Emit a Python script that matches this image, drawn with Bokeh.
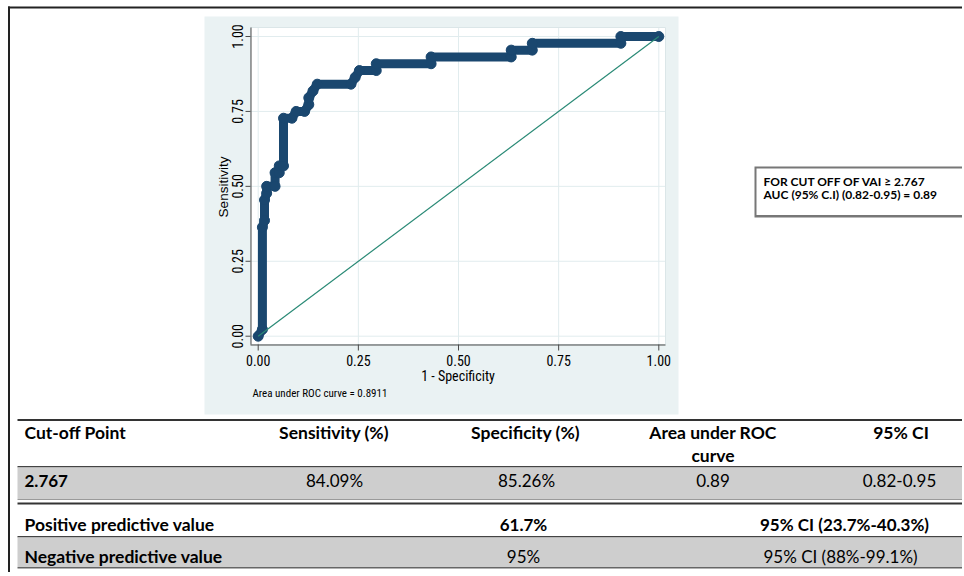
import math
from bokeh.plotting import figure
from bokeh.models import Range1d
from bokeh.core.properties import value
from bokeh.embed import file_html
from bokeh.resources import INLINE

# ---------------- data ----------------
fpr = [0.000, 0.0105, 0.0105, 0.0158, 0.0158, 0.0211, 0.0211, 0.0421, 0.0421, 0.0526,
       0.0526, 0.0632, 0.0632, 0.0842, 0.0947, 0.1158, 0.1263, 0.1263, 0.1368, 0.1474,
       0.2316, 0.2421, 0.2526, 0.2947, 0.2947, 0.4316, 0.4316, 0.6316, 0.6316, 0.6842,
       0.6842, 0.9053, 0.9053, 1.000]
tpr = [0.000, 0.0227, 0.3636, 0.3864, 0.4545, 0.4773, 0.5000, 0.5000, 0.5455, 0.5455,
       0.5682, 0.5682, 0.7273, 0.7273, 0.7500, 0.7500, 0.7727, 0.7955, 0.8182, 0.8409,
       0.8409, 0.8636, 0.8864, 0.8864, 0.9091, 0.9091, 0.9318, 0.9318, 0.9545, 0.9545,
       0.9773, 0.9773, 1.000, 1.000]
ref_x = [0.0, 1.0]
ref_y = [0.0, 1.0]
tick_vals = [0.0, 0.25, 0.5, 0.75, 1.0]
tick_labels = ["0.00", "0.25", "0.50", "0.75", "1.00"]
x_title = "1 - Specificity"
y_title = "Sensitivity"
auc_note = "Area under ROC curve = 0.8911"
box_lines = ["FOR CUT OFF OF VAI \u2265 2.767", "AUC (95% C.I) (0.82-0.95) = 0.89"]
header = ["Cut-off Point", "Sensitivity (%)", "Specificity (%)", "Area under ROC", "95% CI"]
header_2 = ["", "", "", "curve", ""]
row_cut = ["2.767", "84.09%", "85.26%", "0.89", "0.82-0.95"]
ppv_row = ["Positive predictive value", "61.7%", "95% CI (23.7%-40.3%)"]
npv_row = ["Negative predictive value", "95%", "95% CI (88%-99.1%)"]

# ---------------- layout (page pixels) ----------------
PW, PH = 962, 572
GX0, GX1, GY0, GY1 = 204, 678, 16, 414     # Stata graph region
FL, FR, FT, FB = 250, 665, 27, 344         # plot region
X0PX, X1PX = 257.7, 658.3                  # data 0 / 1 on x
Y0PX, Y1PX = 335.7, 36.0                   # data 0 / 1 on y
sx = X1PX - X0PX
sy = Y0PX - Y1PX
xd_lo, xd_hi = (FL - X0PX) / sx, (FR - X0PX) / sx
yd_lo, yd_hi = (Y0PX - FB) / sy, (Y0PX - FT) / sy

NAVY = "#1a476f"
TEAL = "#2a8a76"
BLUEBG = "#eaf2f3"
GRID = "#e1ecee"
GRAY = "#cecece"
AXC = "#4a4a4a"
DARK = "#222222"
STATA_FONT = "Roboto Condensed, Liberation Sans Narrow, DejaVu Sans Condensed, Liberation Sans"
TABLE_FONT = "Lato"

p = figure(width=PW, height=PH, output_backend="svg", toolbar_location=None,
           x_range=Range1d(0, PW), y_range=Range1d(PH, 0),
           x_axis_location=None, y_axis_location=None, min_border=0, title=None)
p.xgrid.visible = False
p.ygrid.visible = False
p.outline_line_color = None
p.background_fill_color = "white"
p.border_fill_color = "white"
# scales of the ROC chart, mapped onto the page
p.extra_x_ranges = {"rx": Range1d(-X0PX / sx, (PW - X0PX) / sx)}
p.extra_y_ranges = {"ry": Range1d((Y0PX - PH) / sy, Y0PX / sy)}
ROC = dict(x_range_name="rx", y_range_name="ry")


def boxes(l, r, t, b, color):
    p.quad(left=l, right=r, top=t, bottom=b, fill_color=color, line_color=None)


def texts(xs, ys, txt, size, bold=False, align="left", font=TABLE_FONT, angle=0.0,
          color="#111111", **kw):
    p.text(x=xs, y=ys, text=txt, text_align=align, text_baseline="middle",
           text_font=value(font), text_font_size=value(f"{size}px"),
           text_font_style="bold" if bold else "normal", text_color=color,
           angle=angle, **kw)


# ---- page frame lines ----
boxes([7.5, 7.5], [9.5, PW + 5], [6, 6], [PH + 5, 8], DARK)

# ---- Stata graph region ----
boxes([GX0], [GX1], [GY0], [GY1], BLUEBG)
boxes([FL], [FR], [FT], [FB], "white")

n = len(tick_vals)
# grid lines (ROC scales)
p.segment(x0=tick_vals, x1=tick_vals, y0=[yd_lo] * n, y1=[yd_hi] * n,
          line_color=GRID, line_width=1, **ROC)
p.segment(x0=[xd_lo] * n, x1=[xd_hi] * n, y0=tick_vals, y1=tick_vals,
          line_color=GRID, line_width=1, **ROC)
# plot region outline
p.quad(left=[FL], right=[FR], top=[FT], bottom=[FB], fill_color=None,
       line_color="#dbe6e8", line_width=1)
# axis lines
p.segment(x0=[FL + 0.5, FL], x1=[FL + 0.5, FR], y0=[FT, FB + 0.5], y1=[FB, FB + 0.5],
          line_color=AXC, line_width=1)
# tick marks
p.segment(x0=tick_vals, x1=tick_vals, y0=[FB] * n, y1=[FB + 6] * n,
          line_color=AXC, line_width=1, x_range_name="rx")
p.segment(x0=[FL - 5] * n, x1=[FL] * n, y0=tick_vals, y1=tick_vals,
          line_color=AXC, line_width=1, y_range_name="ry")
# tick labels
texts(tick_vals, [360] * n, tick_labels, 14, align="center", font=STATA_FONT,
      color="#000000", x_range_name="rx")
texts([237] * n, tick_vals, tick_labels, 14, align="center", font=STATA_FONT,
      color="#000000", angle=math.pi / 2, y_range_name="ry")
# axis titles and note
texts([(FL + FR) / 2], [375], [x_title], 14, align="center", font=STATA_FONT,
      color="#000000")
texts([223], [(FT + FB) / 2 + 1], [y_title], 13.5, align="center",
      font="Liberation Sans", angle=math.pi / 2, color="#000000")
texts([252], [393], [auc_note], 11, font=STATA_FONT, color="#000000")

# ROC curve and reference line
p.line(fpr, tpr, line_color=NAVY, line_width=9, line_join="round", line_cap="round", **ROC)
p.scatter(fpr, tpr, size=10, fill_color=NAVY, line_color=NAVY, **ROC)
p.line(ref_x, ref_y, line_color=TEAL, line_width=1.2, **ROC)

# ---- text box on the right ----
boxes([754], [PW + 5], [166], [217], "#777777")
boxes([756], [PW + 5], [168], [214.5], "white")
texts([763, 763], [181, 194], box_lines, 12, bold=True, color="#000000")

# ---- table ----
TL, TR = 17, PW + 5
boxes([TL] * 8, [TR] * 8,
      [418.5, 465.5, 467, 498.5, 502, 535.5, 537, 566.5],
      [420.5, 467, 498.5, 499.5, 504, 537, 566.5, 568],
      ["#333333", "#444444", GRAY, "#9a9a9a", "#333333", "#444444", GRAY, "#666666"])

col_x = [24, 333.5, 525, 712.5, 900.5]
texts(col_x[:1], [432], header[:1], 17.5, bold=True, color="#000000")
texts(col_x[1:], [432] * 4, header[1:], 17.5, bold=True, align="center", color="#000000")
texts([col_x[3]], [455], [header_2[3]], 17.5, bold=True, align="center", color="#000000")

row_x = [24, 334, 526, 712.5, 899]
texts(row_x[:1], [480], row_cut[:1], 17, bold=True, color="#000000")
texts(row_x[1:], [480] * 4, row_cut[1:], 17, align="center", color="#000000")

texts([24], [524], ppv_row[:1], 17.5, bold=True, color="#000000")
texts([523, 844], [524, 524], ppv_row[1:], 17, bold=True, align="center", color="#000000")
texts([24], [556], npv_row[:1], 17.5, bold=True, color="#000000")
texts([523, 840], [556, 556], npv_row[1:], 17, align="center", color="#000000")

open("out.html", "w").write(file_html(p, INLINE))
